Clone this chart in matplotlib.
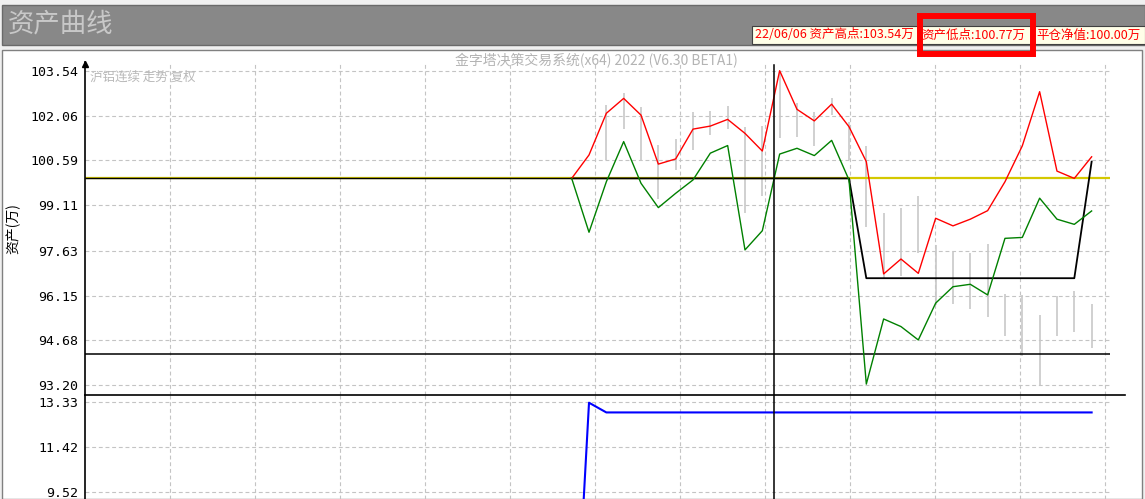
import numpy as np
import matplotlib
matplotlib.use("Agg")
import matplotlib.pyplot as plt
from matplotlib.patches import Rectangle
from matplotlib.lines import Line2D

plt.rcParams['font.family'] = ['Noto Sans CJK SC', 'DejaVu Sans']

# 资产曲线数据 (单位: 万)
high_curve = [100.00, 100.77, 102.14, 102.63, 102.08, 100.47, 100.64, 101.62, 101.72, 101.94,
              101.48, 100.90, 103.54, 102.27, 101.89, 102.44, 101.70, 100.55, 96.86, 97.35,
              96.88, 98.69, 98.44, 98.66, 98.94, 99.89, 101.07, 102.85, 100.24, 100.00, 100.71]
low_curve = [100.00, 98.23, 99.89, 101.21, 99.84, 99.04, 99.51, 99.95, 100.83, 101.08,
             97.65, 98.28, 100.80, 100.99, 100.75, 101.25, 99.95, 93.24, 95.38, 95.13,
             94.69, 95.90, 96.44, 96.52, 96.17, 98.03, 98.06, 99.35, 98.66, 98.49, 98.93]
closed_equity = [100.00] * 17 + [96.72] * 13 + [100.55]
# 价格区间 (灰色竖线), 前两根没有
bar_top = [None, None, 102.40, 102.82, 102.36, 101.09, 101.31, 102.17, 102.22, 102.39,
           101.68, 101.71, 103.48, 102.49, 102.17, 102.65, 101.87, 101.08, 98.85, 99.04,
           99.43, 97.81, 97.57, 97.54, 97.85, 96.21, 96.18, 95.52, 96.12, 96.29, 95.88]
bar_bottom = [None, None, 100.59, 101.64, 100.57, 99.31, 100.29, 100.93, 101.43, 101.62,
              98.87, 99.41, 101.34, 101.37, 101.05, 102.07, 100.59, 98.40, 96.72, 96.79,
              97.54, 95.83, 95.88, 95.70, 95.46, 94.81, 94.15, 93.20, 94.83, 94.96, 94.41]
position_ratio = [0.00, 13.30] + [12.89] * 29

flat_line = 100.00
stop_line = 94.22
cursor_idx = 11.7

upper_ticks = [103.54, 102.06, 100.59, 99.11, 97.63, 96.15, 94.68, 93.20]
lower_ticks = [13.33, 11.42, 9.52]

title = "资产曲线"
info_parts = ["22/06/06 资产高点:103.54万", "资产低点:100.77万", "平仓净值:100.00万"]
watermark = "金字塔决策交易系统(x64) 2022 (V6.30 BETA1)"
symbol_text = "沪铝连续 走势 复权"

W, H = 1145, 499


def fx(x):
    return x / W


def fy(y):
    return 1 - y / H


fig = plt.figure(figsize=(W / 100, H / 100), dpi=100)
fig.patch.set_facecolor('#f0f0f0')

# 顶部标题栏
fig.patches.append(Rectangle((fx(2), fy(45)), fx(1143), 40 / H, transform=fig.transFigure,
                             facecolor='#888888', edgecolor='#6a6a6a', lw=1, zorder=-2))
fig.text(fx(8), fy(24), title, fontsize=19, color='#c8c8c8', va='center', ha='left')
fig.patches.append(Rectangle((fx(752), fy(44)), fx(393), 18.5 / H, transform=fig.transFigure,
                             facecolor='#ffffe8', edgecolor='#404040', lw=0.8, zorder=-1))
for x0, txt in zip([755, 921, 1036], info_parts):
    fig.text(fx(x0), fy(35), txt, fontsize=9, color='#ff0000', va='center', ha='left', zorder=3)
fig.patches.append(Rectangle((fx(919.5), fy(54)), fx(113.5), 38 / H, transform=fig.transFigure,
                             facecolor='none', edgecolor='#ff0000', lw=4.3, zorder=4))

# 主面板
fig.patches.append(Rectangle((fx(2), fy(499)), fx(1140), 449 / H, transform=fig.transFigure,
                             facecolor='white', edgecolor='#808080', lw=1, zorder=-2))

ax = fig.add_axes([fx(85), fy(395), fx(1110 - 85), (395 - 62) / H])
ax2 = fig.add_axes([fx(85), 0, fx(1110 - 85), (499 - 395) / H], sharex=ax)
ax.set_zorder(2)
ax2.set_zorder(2)

xs = np.arange(len(high_curve))
xlim = (-28.08, 31.06)
ax.set_xlim(*xlim)
ax.set_ylim(92.881, 103.826)
ax2.set_ylim(9.236, 13.626)

# 网格
grid_x = [xlim[0] + (k + 1) * (xlim[1] - xlim[0]) * 85 / 1025 for k in range(12)]
grid_kw = dict(color='#c4c4c4', lw=0.8, linestyle=(0, (3.5, 2.5)), zorder=0)
for a, ticks in [(ax, upper_ticks), (ax2, lower_ticks)]:
    a.set_facecolor('none')
    for g in grid_x:
        a.axvline(g, **grid_kw)
    for t in ticks:
        a.axhline(t, **grid_kw)
    a.set_yticks(ticks)
    a.set_yticklabels([f"{t:.2f}" for t in ticks], family='DejaVu Sans Mono', fontsize=9.5)
    a.tick_params(axis='y', length=0, pad=5)
    a.tick_params(axis='x', bottom=False, labelbottom=False)
    for s in ['top', 'right', 'bottom']:
        a.spines[s].set_visible(False)
    a.spines['left'].set_color('black')
    a.spines['left'].set_linewidth(1.2)

# 价格竖线
for i, (t, b) in enumerate(zip(bar_top, bar_bottom)):
    if t is not None:
        ax.vlines(xs[i], b, t, color='#c8c8c8', lw=1.2, zorder=1)

ax.axhline(flat_line, color='#d4c800', lw=1.6, zorder=2)
ax.hlines(flat_line, xlim[0], 0, color='black', lw=1.0, zorder=3)
ax.plot(xs, closed_equity, color='black', lw=1.3, zorder=3)
ax.plot(xs, high_curve, color='#ff0000', lw=1, zorder=4)
ax.plot(xs, low_curve, color='#008000', lw=1, zorder=4)
ax.axhline(stop_line, color='black', lw=1.1, zorder=3)

ax2.plot(xs, position_ratio, color='#0000ff', lw=1.5, zorder=3)

# 十字光标
ax.axvline(cursor_idx, color='black', lw=1.1, ymax=0.99, zorder=5)
ax2.axvline(cursor_idx, color='black', lw=1.1, zorder=5)

# 分隔线
fig.lines.append(Line2D([fx(85), fx(1125)], [fy(395), fy(395)], transform=fig.transFigure,
                        color='black', lw=1.2, zorder=3))
# 轴箭头
ax.plot([xlim[0]], [103.75], marker='^', color='black', markersize=4, clip_on=False, zorder=6)

fig.text(fx(596), fy(61), watermark, fontsize=10, color='#b4b4b4', ha='center', va='center')
fig.text(fx(90), fy(77), symbol_text, fontsize=9, color='#b8b8b8', ha='left', va='center')
fig.text(fx(13), fy(229), "资产(万)", fontsize=10, rotation=90, ha='center', va='center')

fig.savefig("out.png", dpi=100, facecolor=fig.get_facecolor())
